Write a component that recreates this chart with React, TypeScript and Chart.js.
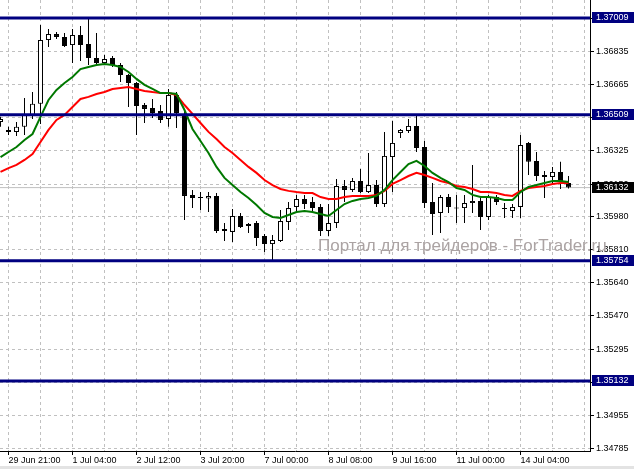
import React, { useEffect, useRef } from 'react';
import { Chart, registerables } from 'chart.js';

Chart.register(...registerables);

// H4 bars, one every 8 px; time labels every 8th bar starting at bar 1
const timeLabels = ['29 Jun 21:00', '1 Jul 04:00', '2 Jul 12:00', '3 Jul 20:00', '7 Jul 00:00', '8 Jul 08:00', '9 Jul 16:00', '11 Jul 00:00', '14 Jul 04:00'];

const opens = [
  1.36471, 1.36420, 1.36420, 1.36446, 1.36508, 1.36565, 1.36895, 1.36926, 1.36911, 1.36869,
  1.36921, 1.36875, 1.36802, 1.36776, 1.36802, 1.36766, 1.36714, 1.36673, 1.36559, 1.36544,
  1.36528, 1.36487, 1.36611, 1.36508, 1.36094, 1.36081, 1.36076, 1.36089, 1.35918, 1.35903,
  1.35985, 1.35944, 1.35949, 1.35882, 1.35840, 1.35856, 1.35954, 1.36032, 1.36073, 1.36058,
  1.36032, 1.35908, 1.35949, 1.36140, 1.36120, 1.36166, 1.36109, 1.36145, 1.36047, 1.36290,
  1.36414, 1.36425, 1.36451, 1.36342, 1.36058, 1.36001, 1.36083, 1.36026, 1.36026, 1.36052,
  1.36063, 1.35980, 1.36083, 1.36024, 1.36011, 1.36032, 1.36363, 1.36270, 1.36197, 1.36187,
  1.36213, 1.36156,
];
const highs = [
  1.36498, 1.36446, 1.36471, 1.36595, 1.36626, 1.36973, 1.36952, 1.36937, 1.36931, 1.36952,
  1.36968, 1.37004, 1.36931, 1.36818, 1.36812, 1.36776, 1.36719, 1.36678, 1.36570, 1.36590,
  1.36559, 1.36642, 1.36626, 1.36533, 1.36120, 1.36109, 1.36109, 1.36104, 1.35949, 1.36021,
  1.36001, 1.35949, 1.35959, 1.35892, 1.35887, 1.36016, 1.36058, 1.36094, 1.36094, 1.36083,
  1.36047, 1.36047, 1.36176, 1.36171, 1.36182, 1.36228, 1.36311, 1.36171, 1.36420, 1.36476,
  1.36435, 1.36487, 1.36503, 1.36373, 1.36156, 1.36094, 1.36099, 1.36094, 1.36094, 1.36249,
  1.36083, 1.36094, 1.36094, 1.36052, 1.36047, 1.36404, 1.36368, 1.36316, 1.36218, 1.36239,
  1.36265, 1.36192,
];
const lows = [
  1.36446, 1.36404, 1.36399, 1.36404, 1.36487, 1.36461, 1.36859, 1.36900, 1.36859, 1.36776,
  1.36786, 1.36766, 1.36766, 1.36771, 1.36756, 1.36678, 1.36549, 1.36404, 1.36466, 1.36492,
  1.36466, 1.36446, 1.36440, 1.35964, 1.36026, 1.36016, 1.36006, 1.35897, 1.35856, 1.35851,
  1.35923, 1.35897, 1.35830, 1.35799, 1.35758, 1.35851, 1.35913, 1.36006, 1.36021, 1.36006,
  1.35882, 1.35882, 1.35923, 1.36058, 1.36109, 1.36104, 1.36104, 1.36032, 1.36032, 1.36109,
  1.36389, 1.36414, 1.36316, 1.36026, 1.35887, 1.35897, 1.36001, 1.35949, 1.35949, 1.36001,
  1.35913, 1.35964, 1.36042, 1.35975, 1.35975, 1.35975, 1.36197, 1.36166, 1.36078, 1.36156,
  1.36125, 1.36127,
];
const closes = [
  1.36487, 1.36430, 1.36446, 1.36508, 1.36565, 1.36895, 1.36926, 1.36911, 1.36864, 1.36921,
  1.36869, 1.36802, 1.36776, 1.36797, 1.36766, 1.36714, 1.36673, 1.36554, 1.36539, 1.36518,
  1.36482, 1.36611, 1.36518, 1.36089, 1.36078, 1.36078, 1.36089, 1.35908, 1.35908, 1.35985,
  1.35928, 1.35934, 1.35871, 1.35840, 1.35861, 1.35959, 1.36026, 1.36073, 1.36047, 1.36026,
  1.35908, 1.35949, 1.36140, 1.36120, 1.36166, 1.36109, 1.36145, 1.36047, 1.36296, 1.36363,
  1.36430, 1.36451, 1.36337, 1.36052, 1.35995, 1.36083, 1.36032, 1.36024, 1.36052, 1.36063,
  1.35980, 1.36083, 1.36058, 1.36021, 1.36032, 1.36352, 1.36265, 1.36192, 1.36187, 1.36213,
  1.36161, 1.36132,
];
// fast moving average (green)
const maFast = [
  1.36290, 1.36316, 1.36342, 1.36378, 1.36409, 1.36498, 1.36585, 1.36637, 1.36673, 1.36704,
  1.36745, 1.36756, 1.36766, 1.36771, 1.36766, 1.36756, 1.36730, 1.36694, 1.36663, 1.36642,
  1.36621, 1.36621, 1.36616, 1.36533, 1.36435, 1.36373, 1.36311, 1.36239, 1.36182, 1.36145,
  1.36109, 1.36078, 1.36042, 1.36001, 1.35980, 1.35975, 1.35990, 1.36006, 1.36011, 1.36006,
  1.35995, 1.35985, 1.36016, 1.36047, 1.36063, 1.36073, 1.36078, 1.36089, 1.36120, 1.36171,
  1.36213, 1.36254, 1.36270, 1.36244, 1.36208, 1.36182, 1.36161, 1.36130, 1.36120, 1.36094,
  1.36083, 1.36083, 1.36078, 1.36068, 1.36068, 1.36109, 1.36135, 1.36145, 1.36156, 1.36166,
  1.36166, 1.36161,
];
// slow moving average (red)
const maSlow = [
  1.36213, 1.36233, 1.36249, 1.36275, 1.36306, 1.36368, 1.36430, 1.36482, 1.36508, 1.36549,
  1.36590, 1.36601, 1.36616, 1.36626, 1.36642, 1.36647, 1.36652, 1.36642, 1.36632, 1.36626,
  1.36621, 1.36621, 1.36611, 1.36559, 1.36513, 1.36466, 1.36420, 1.36383, 1.36342, 1.36311,
  1.36275, 1.36239, 1.36208, 1.36171, 1.36145, 1.36125, 1.36115, 1.36109, 1.36104, 1.36104,
  1.36083, 1.36073, 1.36073, 1.36083, 1.36089, 1.36089, 1.36089, 1.36094, 1.36115, 1.36151,
  1.36171, 1.36192, 1.36208, 1.36197, 1.36182, 1.36166, 1.36156, 1.36140, 1.36135, 1.36125,
  1.36109, 1.36109, 1.36104, 1.36094, 1.36089, 1.36115, 1.36130, 1.36135, 1.36140, 1.36151,
  1.36156, 1.36156,
];
const levels = [1.37009, 1.36509, 1.35754, 1.35132];
const priceTicks = [1.37005, 1.36835, 1.36665, 1.36495, 1.36325, 1.36150, 1.35980, 1.35810, 1.35640, 1.35470, 1.35295, 1.35125, 1.34955, 1.34785];
const priceMin = 1.34770;
const priceMax = 1.37102;
const watermark = 'Портал для трейдеров - ForTrader.ru';

const FONT = '"Liberation Sans", Arial, sans-serif';

export default function App() {
  const ref = useRef<HTMLCanvasElement>(null);

  useEffect(() => {
    const canvas = ref.current;
    if (!canvas) return;
    const idx = opens.map((_, i) => i);
    const last = closes[closes.length - 1];
    const barsVisible = 590 / 8;
    const xMin = -0.0625;
    const xMax = xMin + barsVisible;
    const gridTicks: number[] = [];
    for (let v = 1; v <= xMax; v += 4) gridTicks.push(v);
    const labelFor = (v: number) => {
      const k = (v - 1) / 8;
      return Number.isInteger(k) && timeLabels[k] ? timeLabels[k] : '';
    };

    const overlay = {
      id: 'overlay',
      beforeDatasetsDraw(chart: any) {
        const { ctx, chartArea } = chart;
        ctx.save();
        ctx.font = '17px ' + FONT;
        ctx.fillStyle = '#aba3a3';
        ctx.textBaseline = 'alphabetic';
        ctx.textAlign = 'left';
        ctx.fillText(watermark, chartArea.left + 318, 251);
        ctx.restore();
      },
      afterDraw(chart: any) {
        const { ctx, chartArea } = chart;
        const ys = chart.scales.y;
        const boxes = [
          ...levels.map((v) => ({ v, bg: '#000080' })),
          { v: last, bg: '#000000' },
        ];
        ctx.save();
        ctx.font = '9px ' + FONT;
        ctx.textBaseline = 'middle';
        ctx.textAlign = 'left';
        for (const b of boxes) {
          const py = Math.round(ys.getPixelForValue(b.v));
          ctx.fillStyle = b.bg;
          ctx.fillRect(chartArea.right + 2, py - 6, 42, 11);
          ctx.fillStyle = '#ffffff';
          ctx.fillText(b.v.toFixed(5), chartArea.right + 6, py);
        }
        ctx.restore();
      },
    };

    const lineBase = { type: 'line' as const, pointRadius: 0, tension: 0, fill: false };

    const chart = new Chart(canvas, {
      type: 'bar',
      data: {
        datasets: [
          {
            ...lineBase,
            label: 'bid',
            data: [{ x: xMin - 1, y: last }, { x: xMax + 1, y: last }],
            borderColor: '#c0c0c0',
            borderWidth: 1,
            order: 7,
          } as any,
          {
            type: 'bar',
            label: 'wicks',
            data: idx.map((i) => ({ x: i, y: [lows[i], highs[i]] })),
            backgroundColor: '#000000',
            borderWidth: 0,
            barThickness: 1,
            grouped: false,
            inflateAmount: 0,
            order: 6,
          } as any,
          {
            type: 'bar',
            label: 'bodies',
            data: idx.map((i) => ({ x: i, y: [opens[i], closes[i]] })),
            backgroundColor: idx.map((i) => (closes[i] >= opens[i] ? '#ffffff' : '#000000')),
            borderColor: '#000000',
            borderWidth: 1,
            borderSkipped: false,
            barThickness: 5,
            minBarLength: 1,
            grouped: false,
            inflateAmount: 0,
            order: 5,
          } as any,
          {
            ...lineBase,
            label: 'MA slow',
            data: maSlow.map((y, i) => ({ x: i, y })),
            borderColor: '#ff0000',
            borderWidth: 2,
            order: 4,
          } as any,
          {
            ...lineBase,
            label: 'MA fast',
            data: maFast.map((y, i) => ({ x: i, y })),
            borderColor: '#007800',
            borderWidth: 2,
            order: 3,
          } as any,
          ...levels.map((L) => ({
            ...lineBase,
            label: 'level ' + L,
            data: [{ x: xMin - 1, y: L }, { x: xMax + 1, y: L }],
            borderColor: '#000080',
            borderWidth: 3,
            order: 1,
          } as any)),
        ],
      },
      options: {
        responsive: false,
        animation: false,
        events: [],
        layout: { padding: 0 },
        plugins: { legend: { display: false }, tooltip: { enabled: false }, title: { display: false } },
        scales: {
          x: {
            type: 'linear',
            position: 'bottom',
            min: xMin,
            max: xMax,
            offset: false,
            afterBuildTicks: (s: any) => {
              s.ticks = gridTicks.map((value) => ({ value }));
            },
            afterFit: (s: any) => {
              s.height = 18;
              s.paddingLeft = 0; s.paddingRight = 0; s.paddingTop = 0; s.paddingBottom = 0;
            },
            grid: {
              color: '#c0c0c0',
              lineWidth: 1,
              offset: false,
              drawTicks: true,
              tickLength: 4,
              tickBorderDash: [],
              tickColor: (c: any) => (c.tick && labelFor(c.tick.value) ? '#000000' : 'rgba(0,0,0,0)'),
            },
            border: { display: true, color: '#000000', width: 1, dash: [3, 3] },
            ticks: {
              autoSkip: false,
              maxRotation: 0,
              minRotation: 0,
              align: 'start',
              padding: 0,
              color: '#000000',
              font: { family: FONT, size: 9 },
              callback: (v: any) => labelFor(Number(v)),
            },
          },
          y: {
            type: 'linear',
            position: 'right',
            min: priceMin,
            max: priceMax,
            afterBuildTicks: (s: any) => {
              s.ticks = priceTicks.map((value) => ({ value }));
            },
            afterFit: (s: any) => {
              s.width = 44;
              s.paddingLeft = 0; s.paddingRight = 0; s.paddingTop = 0; s.paddingBottom = 0;
            },
            grid: {
              color: '#c0c0c0',
              lineWidth: 1,
              drawTicks: true,
              tickLength: 4,
              tickBorderDash: [],
              tickColor: '#000000',
            },
            border: { display: true, color: '#000000', width: 1, dash: [3, 3] },
            ticks: {
              padding: 2,
              color: '#000000',
              font: { family: FONT, size: 9 },
              callback: (v: any) => Number(v).toFixed(5),
            },
          },
        },
      } as any,
      plugins: [overlay],
    });

    return () => chart.destroy();
  }, []);

  return (
    <div style={{ position: 'fixed', left: 0, top: 0, width: 634, height: 469, background: '#ffffff', overflow: 'hidden' }}>
      <canvas ref={ref} width={634} height={469} style={{ display: 'block', width: 634, height: 469 }} />
      <div style={{ position: 'absolute', left: 0, top: 466, width: 634, height: 3, background: '#e3e3e3' }} />
    </div>
  );
}
